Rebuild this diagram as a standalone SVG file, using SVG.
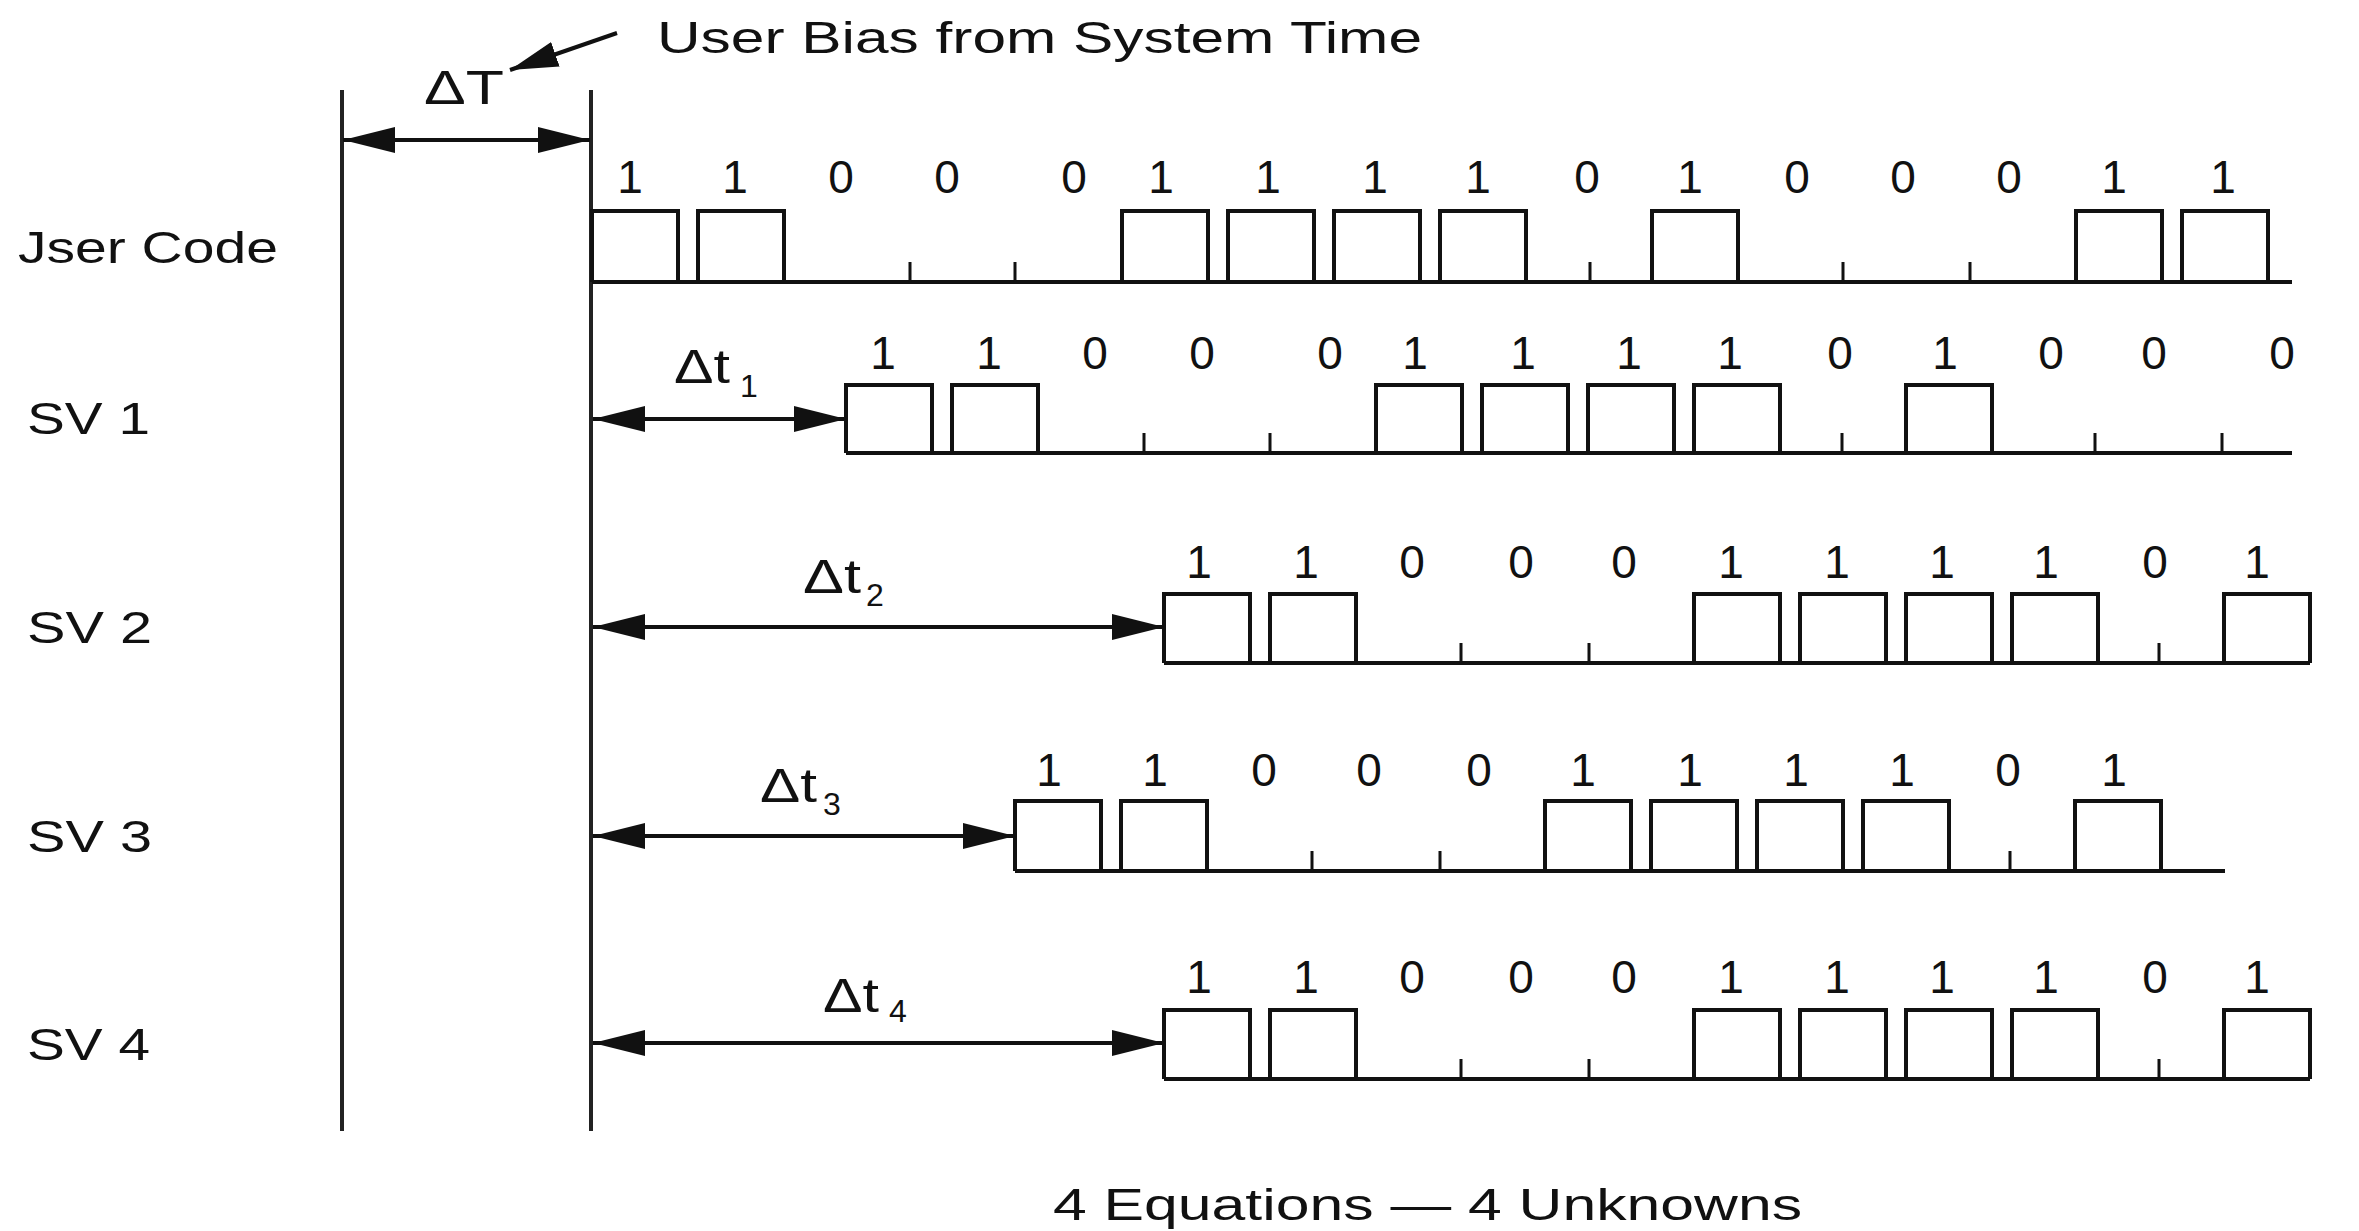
<svg xmlns="http://www.w3.org/2000/svg" width="2359" height="1231" viewBox="0 0 2359 1231">
<style>
text{font-family:"Liberation Sans",Arial,sans-serif;fill:#111}
.bit{font-size:46px;text-anchor:middle}
.lab{font-size:45px}
.dt{font-size:48px}
.sub{font-size:32px}
.wave{fill:none;stroke:#111;stroke-width:4;stroke-linejoin:miter}
.tick{stroke:#111;stroke-width:3}
.ref{stroke:#222;stroke-width:4}
.arr{stroke:#111;stroke-width:4;fill:none}
</style>
<defs>
<marker id="ah" markerUnits="userSpaceOnUse" markerWidth="52" markerHeight="26" refX="52" refY="13" orient="auto-start-reverse" viewBox="0 0 52 26">
<path d="M0,0 L52,13 L0,26 z" fill="#111"/>
</marker>
<marker id="ah2" markerUnits="userSpaceOnUse" markerWidth="48" markerHeight="26" refX="48" refY="13" orient="auto" viewBox="0 0 48 26">
<path d="M0,0 L48,13 L0,26 z" fill="#111"/>
</marker>
</defs>
<rect width="2359" height="1231" fill="#fff"/>

<g id="title">
<text class="lab" x="657" y="53" textLength="765" lengthAdjust="spacingAndGlyphs">User Bias from System Time</text>
<text class="dt" x="424" y="104" textLength="80" lengthAdjust="spacingAndGlyphs">ΔT</text>
</g>

<g id="reference-lines">
<line class="ref" x1="342" y1="90" x2="342" y2="1131"/>
<line class="ref" x1="591" y1="90" x2="591" y2="1131"/>
</g>

<g id="connectors">
<line class="arr" x1="343" y1="140" x2="590" y2="140" marker-start="url(#ah)" marker-end="url(#ah)"/>
<line class="arr" x1="593" y1="419" x2="846" y2="419" marker-start="url(#ah)" marker-end="url(#ah)"/>
<line class="arr" x1="593" y1="627" x2="1164" y2="627" marker-start="url(#ah)" marker-end="url(#ah)"/>
<line class="arr" x1="593" y1="836" x2="1015" y2="836" marker-start="url(#ah)" marker-end="url(#ah)"/>
<line class="arr" x1="593" y1="1043" x2="1164" y2="1043" marker-start="url(#ah)" marker-end="url(#ah)"/>
<line class="arr" x1="617" y1="33" x2="510" y2="70" marker-end="url(#ah2)"/>
</g>

<g id="user-code">
<text class="lab" x="18" y="263" textLength="260" lengthAdjust="spacingAndGlyphs">Jser Code</text>
<path class="wave" d="M592,282H2292 M592,282V211H678V282 M698,282V211H784V282 M1122,282V211H1208V282 M1228,282V211H1314V282 M1334,282V211H1420V282 M1440,282V211H1526V282 M1652,282V211H1738V282 M2076,282V211H2162V282 M2182,282V211H2268V282"/>
<path class="tick" d="M910,282V262 M1015,282V262 M1590,282V262 M1843,282V262 M1970,282V262"/>
<text class="bit" y="193"><tspan x="630">1</tspan><tspan x="735">1</tspan><tspan x="841">0</tspan><tspan x="947">0</tspan><tspan x="1074">0</tspan><tspan x="1161">1</tspan><tspan x="1268">1</tspan><tspan x="1375">1</tspan><tspan x="1478">1</tspan><tspan x="1587">0</tspan><tspan x="1690">1</tspan><tspan x="1797">0</tspan><tspan x="1903">0</tspan><tspan x="2009">0</tspan><tspan x="2114">1</tspan><tspan x="2223">1</tspan></text>
</g>

<g id="sv1">
<text class="lab" x="27" y="434" textLength="123" lengthAdjust="spacingAndGlyphs">SV 1</text>
<text class="dt" x="674" y="383" textLength="56" lengthAdjust="spacingAndGlyphs">Δt</text>
<text class="sub" x="740" y="397">1</text>
<path class="wave" d="M846,453H2292 M846,453V385H932V453 M952,453V385H1038V453 M1376,453V385H1462V453 M1482,453V385H1568V453 M1588,453V385H1674V453 M1694,453V385H1780V453 M1906,453V385H1992V453"/>
<path class="tick" d="M1144,453V433 M1270,453V433 M1842,453V433 M2095,453V433 M2222,453V433"/>
<text class="bit" y="369"><tspan x="883">1</tspan><tspan x="989">1</tspan><tspan x="1095">0</tspan><tspan x="1202">0</tspan><tspan x="1330">0</tspan><tspan x="1415">1</tspan><tspan x="1523">1</tspan><tspan x="1629">1</tspan><tspan x="1730">1</tspan><tspan x="1840">0</tspan><tspan x="1945">1</tspan><tspan x="2051">0</tspan><tspan x="2154">0</tspan><tspan x="2282">0</tspan></text>
</g>

<g id="sv2">
<text class="lab" x="27" y="643" textLength="125" lengthAdjust="spacingAndGlyphs">SV 2</text>
<text class="dt" x="803" y="593" textLength="58" lengthAdjust="spacingAndGlyphs">Δt</text>
<text class="sub" x="866" y="606">2</text>
<path class="wave" d="M1164,663H2310 M1164,663V594H1250V663 M1270,663V594H1356V663 M1694,663V594H1780V663 M1800,663V594H1886V663 M1906,663V594H1992V663 M2012,663V594H2098V663 M2224,663V594H2310V663"/>
<path class="tick" d="M1461,663V643 M1589,663V643 M2159,663V643"/>
<text class="bit" y="578"><tspan x="1199">1</tspan><tspan x="1306">1</tspan><tspan x="1412">0</tspan><tspan x="1521">0</tspan><tspan x="1624">0</tspan><tspan x="1731">1</tspan><tspan x="1837">1</tspan><tspan x="1942">1</tspan><tspan x="2046">1</tspan><tspan x="2155">0</tspan><tspan x="2257">1</tspan></text>
</g>

<g id="sv3">
<text class="lab" x="27" y="852" textLength="125" lengthAdjust="spacingAndGlyphs">SV 3</text>
<text class="dt" x="760" y="802" textLength="57" lengthAdjust="spacingAndGlyphs">Δt</text>
<text class="sub" x="823" y="815">3</text>
<path class="wave" d="M1015,871H2225 M1015,871V801H1101V871 M1121,871V801H1207V871 M1545,871V801H1631V871 M1651,871V801H1737V871 M1757,871V801H1843V871 M1863,871V801H1949V871 M2075,871V801H2161V871"/>
<path class="tick" d="M1312,871V851 M1440,871V851 M2010,871V851"/>
<text class="bit" y="786"><tspan x="1049">1</tspan><tspan x="1155">1</tspan><tspan x="1264">0</tspan><tspan x="1369">0</tspan><tspan x="1479">0</tspan><tspan x="1583">1</tspan><tspan x="1690">1</tspan><tspan x="1796">1</tspan><tspan x="1902">1</tspan><tspan x="2008">0</tspan><tspan x="2114">1</tspan></text>
</g>

<g id="sv4">
<text class="lab" x="27" y="1060" textLength="123" lengthAdjust="spacingAndGlyphs">SV 4</text>
<text class="dt" x="823" y="1012" textLength="56" lengthAdjust="spacingAndGlyphs">Δt</text>
<text class="sub" x="889" y="1022">4</text>
<path class="wave" d="M1164,1079H2310 M1164,1079V1010H1250V1079 M1270,1079V1010H1356V1079 M1694,1079V1010H1780V1079 M1800,1079V1010H1886V1079 M1906,1079V1010H1992V1079 M2012,1079V1010H2098V1079 M2224,1079V1010H2310V1079"/>
<path class="tick" d="M1461,1079V1059 M1589,1079V1059 M2159,1079V1059"/>
<text class="bit" y="993"><tspan x="1199">1</tspan><tspan x="1306">1</tspan><tspan x="1412">0</tspan><tspan x="1521">0</tspan><tspan x="1624">0</tspan><tspan x="1731">1</tspan><tspan x="1837">1</tspan><tspan x="1942">1</tspan><tspan x="2046">1</tspan><tspan x="2155">0</tspan><tspan x="2257">1</tspan></text>
</g>

<g id="caption">
<text class="lab" x="1053" y="1220" textLength="749" lengthAdjust="spacingAndGlyphs">4 Equations — 4 Unknowns</text>
</g>
</svg>
